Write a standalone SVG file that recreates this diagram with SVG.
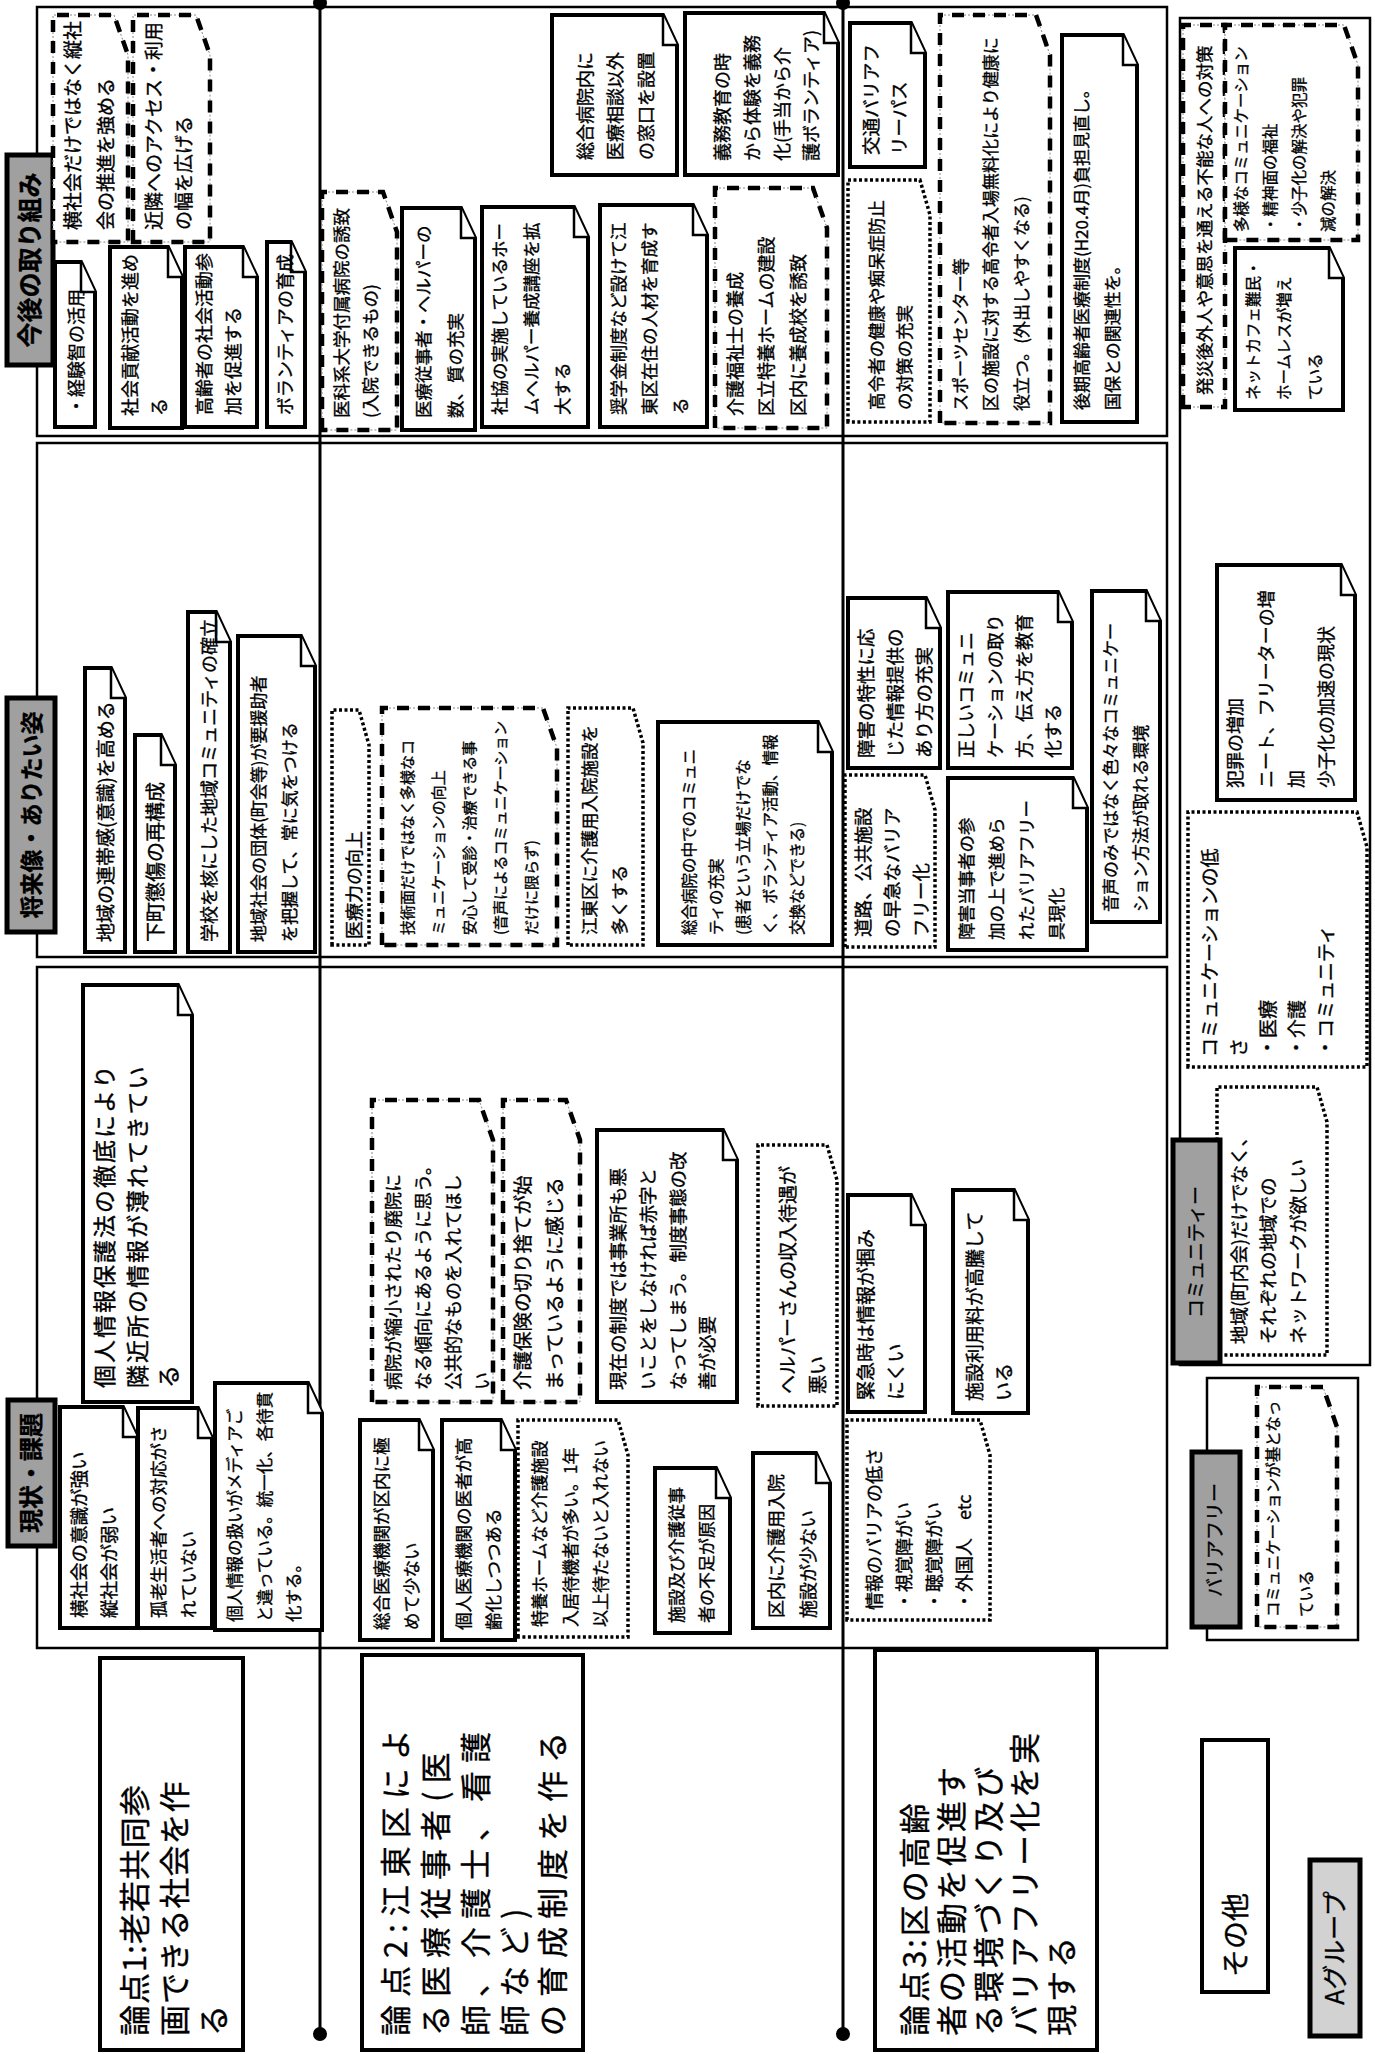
<svg xmlns="http://www.w3.org/2000/svg" width="1375" height="2054" viewBox="0 0 1375 2054">
<style>
.band{fill:none;stroke:#000;stroke-width:2.5}
.s{fill:#fff;stroke:#000;stroke-width:4;stroke-linejoin:miter}
.fl{fill:#fff;stroke:#000;stroke-width:2.5}
.dt{fill:#fff;stroke:#000;stroke-width:3.5;stroke-dasharray:3 2.5}
.dh{fill:#fff;stroke:#888;stroke-width:1;stroke-dasharray:2 2}
.dk{fill:none;stroke:#000;stroke-width:4.5;stroke-dasharray:12 9}
.lab{fill:#a0a0a0;stroke:#000;stroke-width:5}
.labA{fill:#d2d2d2;stroke:#000;stroke-width:5}
.big{fill:#fff;stroke:#000;stroke-width:4}
.ln{stroke:#000;stroke-width:3;fill:none}
.dotc{fill:#000}
text{font-family:"Noto Sans CJK JP","Noto Sans CJK SC",sans-serif;fill:#000;stroke:#000;stroke-width:0.35}
.lt{font-weight:bold;text-anchor:middle}
.ct{text-anchor:middle}
</style>
<rect width="1375" height="2054" fill="#fff"/>
<g id="page" transform="matrix(0 -1 1 0 0 2054)">
<g id="bands">
<rect class="band" x="1618" y="37" width="429" height="1130"/>
<rect class="band" x="1097" y="37" width="514" height="1130"/>
<rect class="band" x="406" y="37" width="681" height="1130"/>
<rect class="band" x="689" y="1180" width="1347" height="190"/>
<rect class="band" x="414" y="1207" width="262" height="151"/>
</g>
<g id="connectors">
<path class="ln" d="M2052 320 H20"/>
<path class="ln" d="M2052 843 H20"/>
<circle class="dotc" cx="2051" cy="320" r="7"/>
<circle class="dotc" cx="20" cy="320" r="7"/>
<circle class="dotc" cx="2051" cy="843" r="7"/>
<circle class="dotc" cx="20" cy="843" r="7"/>
</g>
<g id="L1"><rect class="lab" x="1689" y="7" width="210" height="46"/><text class="lt" x="1794" y="39" font-size="25">今後の取り組み</text></g>
<g id="L2"><rect class="lab" x="1122" y="7" width="234" height="48"/><text class="lt" x="1239" y="40" font-size="23">将来像・ありたい姿</text></g>
<g id="L3"><rect class="lab" x="508" y="8" width="146" height="47"/><text class="lt" x="581" y="40" font-size="24">現状・課題</text></g>

<g id="N1a"><path class="dh" d="M1812 53 H2039 V114 L1999 128 H1812 Z"/><path class="dk" d="M1812 53 H2039 V114 L1999 128 H1812 Z"/><text font-size="19"><tspan x="1824" y="80">横社会だけではなく縦社</tspan><tspan x="1824" y="113">会の推進を強める</tspan></text></g>
<g id="N1b"><path class="dh" d="M1812 133 H2039 V196 L1999 210 H1812 Z"/><path class="dk" d="M1812 133 H2039 V196 L1999 210 H1812 Z"/><text font-size="19"><tspan x="1824" y="161">近隣へのアクセス・利用</tspan><tspan x="1824" y="191">の幅を広げる</tspan></text></g>
<g id="N1c"><path class="s" d="M1627 55 H1792 V81 L1762 95 H1627 Z"/><path class="fl" d="M1792 81 L1762 81 L1762 95"/><text font-size="18"><tspan x="1639" y="83">・経験智の活用</tspan></text></g>
<g id="N1d"><path class="s" d="M1626 110 H1807 V168 L1777 182 H1626 Z"/><path class="fl" d="M1807 168 L1777 168 L1777 182"/><text font-size="18"><tspan x="1638" y="137">社会貢献活動を進め</tspan><tspan x="1638" y="166">る</tspan></text></g>
<g id="N1e"><path class="s" d="M1627 185 H1807 V243 L1777 257 H1627 Z"/><path class="fl" d="M1807 243 L1777 243 L1777 257"/><text font-size="18"><tspan x="1639" y="211">高齢者の社会活動参</tspan><tspan x="1639" y="240">加を促進する</tspan></text></g>
<g id="N1f"><path class="s" d="M1627 267 H1812 V291 L1782 305 H1627 Z"/><path class="fl" d="M1812 291 L1782 291 L1782 305"/><text font-size="18"><tspan x="1639" y="292">ボランティアの育成</tspan></text></g>
<g id="N1g"><path class="dh" d="M1624 322 H1862 V383 L1822 397 H1624 Z"/><path class="dk" d="M1624 322 H1862 V383 L1822 397 H1624 Z"/><text font-size="17.5"><tspan x="1636" y="348">医科系大学付属病院の誘致</tspan><tspan x="1636" y="377">(入院できるもの)</tspan></text></g>
<g id="N1h"><path class="s" d="M1624 402 H1846 V461 L1816 475 H1624 Z"/><path class="fl" d="M1846 461 L1816 461 L1816 475"/><text font-size="17.5"><tspan x="1636" y="430">医療従事者・ヘルパーの</tspan><tspan x="1636" y="462">数、質の充実</tspan></text></g>
<g id="N1i"><path class="s" d="M1627 482 H1847 V574 L1817 588 H1627 Z"/><path class="fl" d="M1847 574 L1817 574 L1817 588"/><text font-size="17.5"><tspan x="1639" y="506">社協の実施しているホー</tspan><tspan x="1639" y="538">ムヘルパー養成講座を拡</tspan><tspan x="1639" y="569">大する</tspan></text></g>
<g id="N1j"><path class="s" d="M1627 600 H1849 V693 L1819 707 H1627 Z"/><path class="fl" d="M1849 693 L1819 693 L1819 707"/><text font-size="17.5"><tspan x="1639" y="625">奨学金制度など設けて江</tspan><tspan x="1639" y="656">東区在住の人材を育成す</tspan><tspan x="1639" y="687">る</tspan></text></g>
<g id="N1k"><path class="dh" d="M1626 715 H1866 V813 L1826 827 H1626 Z"/><path class="dk" d="M1626 715 H1866 V813 L1826 827 H1626 Z"/><text font-size="18"><tspan x="1638" y="742">介護福祉士の養成</tspan><tspan x="1638" y="773">区立特養ホームの建設</tspan><tspan x="1638" y="805">区内に養成校を誘致</tspan></text></g>
<g id="N1l"><path class="s" d="M1879 552 H2039 V663 L2009 677 H1879 Z"/><path class="fl" d="M2039 663 L2009 663 L2009 677"/><text font-size="18"><tspan x="1894" y="592">総合病院内に</tspan><tspan x="1894" y="622">医療相談以外</tspan><tspan x="1894" y="653">の窓口を設置</tspan></text></g>
<g id="N1m"><path class="s" d="M1879 685 H2041 V824 L2011 838 H1879 Z"/><path class="fl" d="M2041 824 L2011 824 L2011 838"/><text font-size="18"><tspan x="1893" y="729">義務教育の時</tspan><tspan x="1893" y="759">から体験を義務</tspan><tspan x="1893" y="789">化(手当から介</tspan><tspan x="1893" y="818">護ボランティア)</tspan></text></g>
<g id="N1n"><path class="s" d="M1887 850 H2031 V911 L2001 925 H1887 Z"/><path class="fl" d="M2031 911 L2001 911 L2001 925"/><text font-size="18.5"><tspan x="1899" y="878">交通バリアフ</tspan><tspan x="1899" y="906">リーパス</tspan></text></g>
<g id="N1o"><path class="dt" d="M1632 848 H1874 V920 L1839 930 H1632 Z"/><text font-size="17.5"><tspan x="1644" y="883">高令者の健康や痴呆症防止</tspan><tspan x="1644" y="911">の対策の充実</tspan></text></g>
<g id="N1p"><path class="dh" d="M1631 940 H2039 V1036 L1999 1050 H1631 Z"/><path class="dk" d="M1631 940 H2039 V1036 L1999 1050 H1631 Z"/><text font-size="17"><tspan x="1643" y="967">スポーツセンター等</tspan><tspan x="1643" y="997">区の施設に対する高令者入場無料化により健康に</tspan><tspan x="1643" y="1028">役立つ。(外出しやすくなる)</tspan></text></g>
<g id="N1q"><path class="s" d="M1632 1062 H2019 V1123 L1989 1137 H1632 Z"/><path class="fl" d="M2019 1123 L1989 1123 L1989 1137"/><text font-size="17"><tspan x="1644" y="1088">後期高齢者医療制度(H20.4月)負担見直し。</tspan><tspan x="1644" y="1119">国保との関連性を。</tspan></text></g>

<g id="N2a"><path class="s" d="M1102 85 H1386 V111 L1356 125 H1102 Z"/><path class="fl" d="M1386 111 L1356 111 L1356 125"/><text font-size="19"><tspan x="1112" y="113">地域の連帯感(意識)を高める</tspan></text></g>
<g id="N2b"><path class="s" d="M1102 135 H1319 V161 L1289 175 H1102 Z"/><path class="fl" d="M1319 161 L1289 161 L1289 175"/><text font-size="20"><tspan x="1112" y="163">下町懲傷の再構成</tspan></text></g>
<g id="N2c"><path class="s" d="M1102 188 H1442 V216 L1412 230 H1102 Z"/><path class="fl" d="M1442 216 L1412 216 L1412 230"/><text font-size="18"><tspan x="1112" y="216">学校を核にした地域コミュニティの確立</tspan></text></g>
<g id="N2d"><path class="s" d="M1102 238 H1418 V301 L1388 315 H1102 Z"/><path class="fl" d="M1418 301 L1388 301 L1388 315"/><text font-size="17"><tspan x="1112" y="265">地域社会の団体(町会等)が要援助者</tspan><tspan x="1112" y="296">を把握して、常に気をつける</tspan></text></g>
<g id="N2e"><path class="dt" d="M1109 332 H1344 V359 L1309 369 H1109 Z"/><text font-size="18"><tspan x="1115" y="361">医療力の向上</tspan></text></g>
<g id="N2f"><path class="dh" d="M1109 382 H1346 V543 L1306 557 H1109 Z"/><path class="dk" d="M1109 382 H1346 V543 L1306 557 H1109 Z"/><text font-size="15"><tspan x="1119" y="413">技術面だけではなく多様なコ</tspan><tspan x="1119" y="444">ミュニケーションの向上</tspan><tspan x="1119" y="475">安心して受診・治療できる事</tspan><tspan x="1119" y="506">(音声によるコミュニケーション</tspan><tspan x="1119" y="537">だけに限らず)</tspan></text></g>
<g id="N2g"><path class="dt" d="M1109 568 H1346 V633 L1311 643 H1109 Z"/><text font-size="17.5"><tspan x="1119" y="596">江東区に介護用入院施設を</tspan><tspan x="1119" y="626">多くする</tspan></text></g>
<g id="N2h"><path class="s" d="M1109 658 H1332 V818 L1302 832 H1109 Z"/><path class="fl" d="M1332 818 L1302 818 L1302 832"/><text font-size="15.5"><tspan x="1119" y="695">総合病院の中でのコミュニ</tspan><tspan x="1119" y="722">ティの充実</tspan><tspan x="1119" y="749">(患者という立場だけでな</tspan><tspan x="1119" y="776">く、ボランティア活動、情報</tspan><tspan x="1119" y="803">交換などできる)</tspan></text></g>
<g id="N2i"><path class="s" d="M1286 848 H1456 V926 L1426 940 H1286 Z"/><path class="fl" d="M1456 926 L1426 926 L1426 940"/><text font-size="18.5"><tspan x="1296" y="873">障害の特性に応</tspan><tspan x="1296" y="902">じた情報提供の</tspan><tspan x="1296" y="931">あり方の充実</tspan></text></g>
<g id="N2j"><path class="s" d="M1286 948 H1462 V1058 L1432 1072 H1286 Z"/><path class="fl" d="M1462 1058 L1432 1058 L1432 1072"/><text font-size="18"><tspan x="1296" y="973">正しいコミュニ</tspan><tspan x="1296" y="1002">ケーションの取り</tspan><tspan x="1296" y="1031">方、伝え方を教育</tspan><tspan x="1296" y="1060">化する</tspan></text></g>
<g id="N2k"><path class="s" d="M1132 1092 H1463 V1146 L1433 1160 H1132 Z"/><path class="fl" d="M1463 1146 L1433 1146 L1433 1160"/><text font-size="17"><tspan x="1142" y="1117">音声のみではなく色々なコミュニケー</tspan><tspan x="1142" y="1147">ション方法が取れる環境</tspan></text></g>
<g id="N2l"><path class="dt" d="M1107 845 H1279 V925 L1244 935 H1107 Z"/><text font-size="18.5"><tspan x="1117" y="870">道路、公共施設</tspan><tspan x="1117" y="899">の早急なバリア</tspan><tspan x="1117" y="928">フリー化</tspan></text></g>
<g id="N2m"><path class="s" d="M1104 948 H1276 V1073 L1246 1087 H1104 Z"/><path class="fl" d="M1276 1073 L1246 1073 L1246 1087"/><text font-size="17.5"><tspan x="1114" y="973">障害当事者の参</tspan><tspan x="1114" y="1003">加の上で進めら</tspan><tspan x="1114" y="1033">れたバリアフリー</tspan><tspan x="1114" y="1063">具現化</tspan></text></g>

<g id="N3a"><path class="s" d="M652 83 H1069 V178 L1039 192 H652 Z"/><path class="fl" d="M1069 178 L1039 178 L1039 192"/><text font-size="23" letter-spacing="2"><tspan x="666" y="113">個人情報保護法の徹底により</tspan><tspan x="666" y="146">隣近所の情報が薄れてきてい</tspan><tspan x="666" y="177">る</tspan></text></g>
<g id="N3b"><path class="s" d="M426 60 H647 V123 L617 137 H426 Z"/><path class="fl" d="M647 123 L617 123 L617 137"/><text font-size="18.5"><tspan x="436" y="86">横社会の意識が強い</tspan><tspan x="436" y="116">縦社会が弱い</tspan></text></g>
<g id="N3c"><path class="s" d="M426 138 H646 V198 L616 212 H426 Z"/><path class="fl" d="M646 198 L616 198 L616 212"/><text font-size="17.5"><tspan x="436" y="165">孤老生活者への対応がさ</tspan><tspan x="436" y="195">れていない</tspan></text></g>
<g id="N3d"><path class="s" d="M424 215 H671 V308 L641 322 H424 Z"/><path class="fl" d="M671 308 L641 308 L641 322"/><text font-size="16.5"><tspan x="432" y="241">個人情報の扱いがメディアご</tspan><tspan x="432" y="271">と違っている。統一化、各待貫</tspan><tspan x="432" y="300">化する。</tspan></text></g>
<g id="N3e"><path class="dh" d="M652 372 H954 V479 L914 493 H652 Z"/><path class="dk" d="M652 372 H954 V479 L914 493 H652 Z"/><text font-size="18"><tspan x="664" y="400">病院が縮小されたり廃院に</tspan><tspan x="664" y="430">なる傾向にあるように思う。</tspan><tspan x="664" y="460">公共的なものを入れてほし</tspan><tspan x="664" y="489">い</tspan></text></g>
<g id="N3f"><path class="dh" d="M652 503 H954 V566 L914 580 H652 Z"/><path class="dk" d="M652 503 H954 V566 L914 580 H652 Z"/><text font-size="19.5"><tspan x="664" y="530">介護保険の切り捨てが始</tspan><tspan x="664" y="562">まっているように感じる</tspan></text></g>
<g id="N3g"><path class="s" d="M652 597 H924 V723 L894 737 H652 Z"/><path class="fl" d="M924 723 L894 723 L894 737"/><text font-size="18.5"><tspan x="664" y="625">現在の制度では事業所も悪</tspan><tspan x="664" y="655">いことをしなければ赤字と</tspan><tspan x="664" y="685">なってしまう。制度事態の改</tspan><tspan x="664" y="714">善が必要</tspan></text></g>
<g id="N3h"><path class="dt" d="M648 758 H909 V827 L874 837 H648 Z"/><text font-size="19"><tspan x="660" y="795">ヘルパーさんの収入待遇が</tspan><tspan x="660" y="825">悪い</tspan></text></g>
<g id="N3i"><path class="s" d="M414 360 H634 V419 L604 433 H414 Z"/><path class="fl" d="M634 419 L604 419 L604 433"/><text font-size="17.5"><tspan x="424" y="388">総合医療機関が区内に極</tspan><tspan x="424" y="418">めて少ない</tspan></text></g>
<g id="N3j"><path class="s" d="M414 442 H634 V501 L604 515 H414 Z"/><path class="fl" d="M634 501 L604 501 L604 515"/><text font-size="17.5"><tspan x="424" y="470">個人医療機関の医者が高</tspan><tspan x="424" y="500">齢化しつつある</tspan></text></g>
<g id="N3k"><path class="dt" d="M417 518 H634 V618 L599 628 H417 Z"/><text font-size="17"><tspan x="427" y="546">特養ホームなど介護施設</tspan><tspan x="427" y="577">入居待機者が多い。1年</tspan><tspan x="427" y="607">以上待たないと入れない</tspan></text></g>
<g id="N3l"><path class="s" d="M421 655 H586 V716 L556 730 H421 Z"/><path class="fl" d="M586 716 L556 716 L556 730"/><text font-size="17"><tspan x="431" y="683">施設及び介護従事</tspan><tspan x="431" y="713">者の不足が原因</tspan></text></g>
<g id="N3m"><path class="s" d="M426 753 H601 V816 L571 830 H426 Z"/><path class="fl" d="M601 816 L571 816 L571 830"/><text font-size="18"><tspan x="436" y="783">区内に介護用入院</tspan><tspan x="436" y="815">施設が少ない</tspan></text></g>
<g id="N3n"><path class="s" d="M642 848 H859 V911 L829 925 H642 Z"/><path class="fl" d="M859 911 L829 911 L829 925"/><text font-size="19"><tspan x="654" y="873">緊急時は情報が掴み</tspan><tspan x="654" y="903">にくい</tspan></text></g>
<g id="N3o"><path class="s" d="M641 953 H864 V1014 L834 1028 H641 Z"/><path class="fl" d="M864 1014 L834 1014 L834 1028"/><text font-size="19"><tspan x="653" y="982">施設利用料が高騰して</tspan><tspan x="653" y="1011">いる</tspan></text></g>
<g id="N3p"><path class="dt" d="M434 847 H634 V980 L599 990 H434 Z"/><text font-size="18"><tspan x="444" y="881">情報のバリアの低さ</tspan><tspan x="444" y="911">・視覚障がい</tspan><tspan x="444" y="941">・聴覚障がい</tspan><tspan x="444" y="971">・外国人　etc</tspan></text></g>

<g id="N4a"><path class="dh" d="M1647 1183 H2029 V1225 H1647 Z"/><path class="dk" d="M1647 1183 H2029 V1225 H1647 Z"/><text font-size="17.5"><tspan x="1659" y="1211">発災後外人や意思を通える不能な人への対策</tspan></text></g>
<g id="N4b"><path class="dh" d="M1814 1225 H2029 V1344 L1989 1358 H1814 Z"/><path class="dk" d="M1814 1225 H2029 V1344 L1989 1358 H1814 Z"/><text font-size="15.5"><tspan x="1822" y="1247">多様なコミュニケーション</tspan><tspan x="1822" y="1276">・精神面の福祉</tspan><tspan x="1822" y="1305">・少子化の解決や犯罪</tspan><tspan x="1822" y="1334">減の解決</tspan></text></g>
<g id="N4c"><path class="s" d="M1644 1235 H1806 V1329 L1776 1343 H1644 Z"/><path class="fl" d="M1806 1329 L1776 1329 L1776 1343"/><text font-size="15.5"><tspan x="1654" y="1259">ネットカフェ難民・</tspan><tspan x="1654" y="1290">ホームレスが増え</tspan><tspan x="1654" y="1321">ている</tspan></text></g>
<g id="N4d"><path class="s" d="M1254 1217 H1489 V1341 L1459 1355 H1254 Z"/><path class="fl" d="M1489 1341 L1459 1341 L1459 1355"/><text font-size="18"><tspan x="1266" y="1242">犯罪の増加</tspan><tspan x="1266" y="1273">ニート、フリーターの増</tspan><tspan x="1266" y="1303">加</tspan><tspan x="1266" y="1333">少子化の加速の現状</tspan></text></g>
<g id="N4e"><path class="dt" d="M987 1188 H1242 V1357 L1207 1367 H987 Z"/><text font-size="19"><tspan x="997" y="1217">コミュニケーションの低</tspan><tspan x="997" y="1246">さ</tspan><tspan x="997" y="1275">・医療</tspan><tspan x="997" y="1304">・介護</tspan><tspan x="997" y="1333">・コミュニティ</tspan></text></g>
<g id="N4f"><path class="dt" d="M699 1217 H967 V1317 L932 1327 H699 Z"/><text font-size="18.5"><tspan x="710" y="1246">地域(町内会)だけでなく、</tspan><tspan x="710" y="1275">それぞれの地域での</tspan><tspan x="710" y="1305">ネットワークが欲しい</tspan></text></g>
<g id="L4"><rect class="lab" x="691" y="1173" width="223" height="47"/><text class="ct" x="802" y="1203" font-size="19">コミュニティー</text></g>
<g id="L5"><rect class="lab" x="427" y="1192" width="175" height="48"/><text class="ct" x="514" y="1222" font-size="19">バリアフリー</text></g>
<g id="N5a"><path class="dh" d="M427 1257 H667 V1323 L627 1337 H427 Z"/><path class="dk" d="M427 1257 H667 V1323 L627 1337 H427 Z"/><text font-size="15.5"><tspan x="437" y="1279">コミュニケーションが基となっ</tspan><tspan x="437" y="1312">ている</tspan></text></g>

<g id="R1"><rect class="big" x="4" y="100" width="392" height="143"/><text font-size="31" letter-spacing="1"><tspan x="18" y="146">論点1:老若共同参</tspan><tspan x="18" y="186">画できる社会を作</tspan><tspan x="18" y="225">る</tspan></text></g>
<g id="R2"><rect class="big" x="4" y="362" width="395" height="221"/><text font-size="31" letter-spacing="8"><tspan x="18" y="407">論点2:江東区によ</tspan><tspan x="18" y="447">る医療従事者(医</tspan><tspan x="18" y="487">師、介護士、看護</tspan><tspan x="18" y="526">師など)</tspan><tspan x="18" y="564">の育成制度を作る</tspan></text></g>
<g id="R3"><rect class="big" x="4" y="875" width="400" height="222"/><text font-size="31" letter-spacing="3"><tspan x="18" y="926">論点3:区の高齢</tspan><tspan x="18" y="963">者の活動を促進す</tspan><tspan x="18" y="1000">る環境づくり及び</tspan><tspan x="18" y="1036">バリアフリー化を実</tspan><tspan x="18" y="1073">現する</tspan></text></g>
<g id="R4"><rect class="big" x="62" y="1202" width="252" height="66"/><text font-size="28"><tspan x="77" y="1246">その他</tspan></text></g>
<g id="G"><rect class="labA" x="18" y="1310" width="176" height="50"/><text class="ct" x="106" y="1344" font-size="25">Aグループ</text></g>
</g>
</svg>
